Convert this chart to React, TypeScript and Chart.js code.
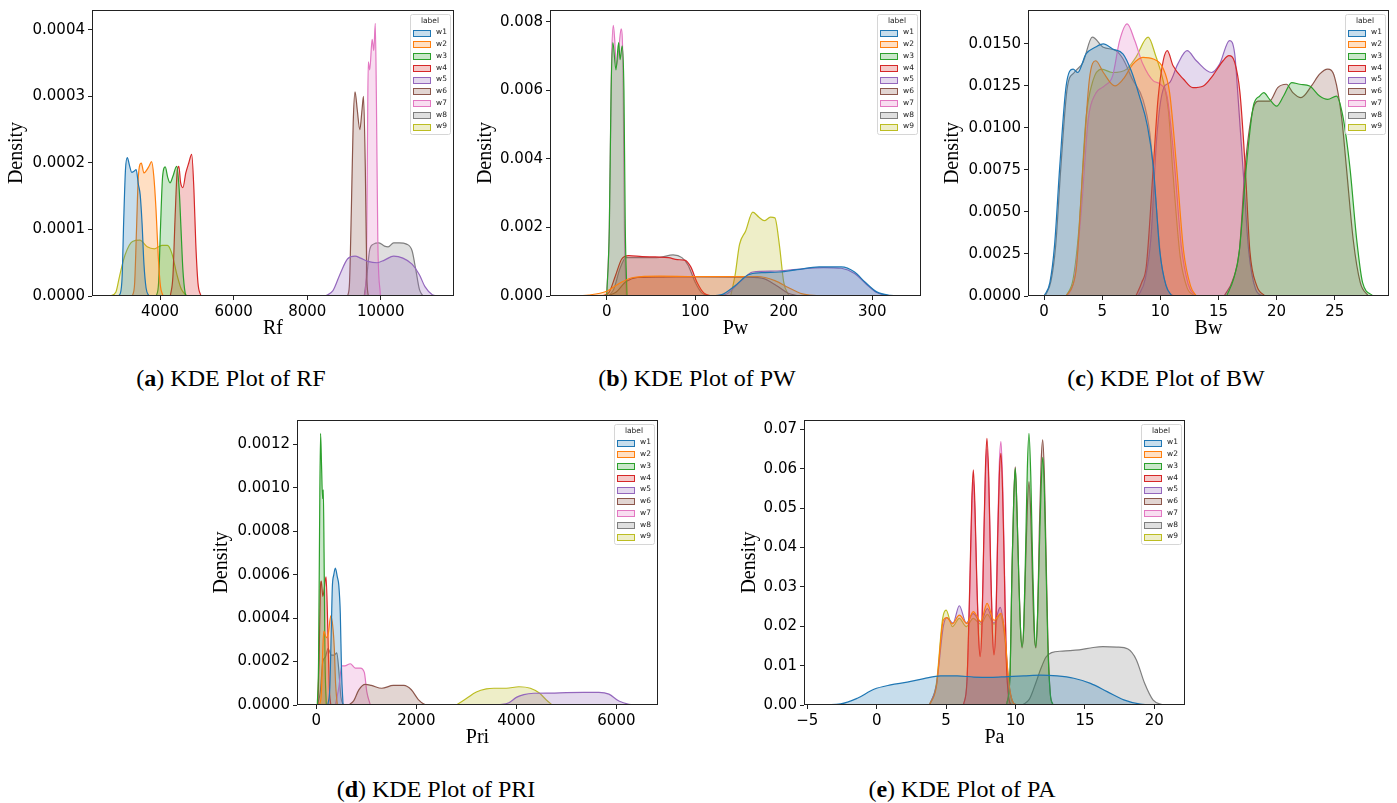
import React, { useEffect, useRef } from 'react';
import { Chart, registerables } from 'chart.js';

Chart.register(...registerables);

type Pt = [number, number];

const LABELS = ['w1', 'w2', 'w3', 'w4', 'w5', 'w6', 'w7', 'w8', 'w9'];
const TAB10 = ['#1f77b4', '#ff7f0e', '#2ca02c', '#d62728', '#9467bd', '#8c564b', '#e377c2', '#7f7f7f', '#bcbd22'];

// ---- Rf densities ----
const RF_W1: Pt[] = [[2850, 0], [2920, 0.000004], [2970, 0.00003], [3010, 0.00011], [3060, 0.00019], [3110, 0.000208], [3170, 0.000196], [3230, 0.000186], [3300, 0.000188], [3350, 0.00019], [3410, 0.000168], [3460, 0.000152], [3510, 0.00011], [3560, 0.00005], [3620, 0.000012], [3700, 0]];
const RF_W2: Pt[] = [[3250, 0], [3310, 0.00002], [3360, 0.0001], [3410, 0.00018], [3490, 0.0002], [3560, 0.000185], [3620, 0.000188], [3700, 0.000195], [3770, 0.000202], [3830, 0.00018], [3890, 0.00013], [3950, 0.00006], [4010, 0.000015], [4080, 0]];
const RF_W3: Pt[] = [[3900, 0], [3960, 0.00002], [4010, 0.0001], [4070, 0.00018], [4140, 0.000194], [4210, 0.000178], [4270, 0.00017], [4350, 0.00018], [4450, 0.000195], [4520, 0.00016], [4570, 0.0001], [4620, 0.00004], [4680, 0.000005], [4720, 0]];
const RF_W4: Pt[] = [[4280, 0], [4350, 0.00003], [4410, 0.00012], [4470, 0.00019], [4510, 0.000195], [4560, 0.00017], [4620, 0.000163], [4700, 0.000185], [4780, 0.0002], [4860, 0.000213], [4920, 0.00016], [4970, 0.00008], [5030, 0.00002], [5110, 0]];
const RF_W5: Pt[] = [[8500, 0], [8700, 0.000008], [8900, 0.000034], [9100, 0.000056], [9300, 0.00006], [9450, 0.000057], [9650, 0.000052], [9900, 0.00005], [10100, 0.000054], [10350, 0.00006], [10600, 0.000057], [10850, 0.000048], [11050, 0.000032], [11200, 0.000014], [11400, 0.000002], [11550, 0]];
const RF_W6: Pt[] = [[9100, 0], [9150, 0.00002], [9200, 0.00013], [9250, 0.00026], [9300, 0.000307], [9360, 0.00028], [9430, 0.00025], [9490, 0.00028], [9530, 0.0003], [9580, 0.00019], [9620, 0.00003], [9660, 0]];
const RF_W7: Pt[] = [[9560, 0], [9610, 0.00004], [9640, 0.00025], [9660, 0.000352], [9700, 0.00034], [9765, 0.000386], [9810, 0.000369], [9850, 0.00041], [9880, 0.0003], [9920, 0.00008], [9990, 0]];
const RF_W8: Pt[] = [[9550, 0], [9620, 0.00003], [9700, 0.00007], [9800, 0.000078], [9950, 0.00008], [10100, 0.000075], [10200, 0.000074], [10350, 0.00008], [10500, 0.00008], [10700, 0.000078], [10850, 0.000068], [10950, 0.00004], [11050, 0.00001], [11150, 0]];
const RF_W9: Pt[] = [[2650, 0], [2800, 0.000006], [2900, 0.00003], [3050, 0.000062], [3250, 0.000082], [3450, 0.000084], [3650, 0.000074], [3850, 0.000071], [4050, 0.000076], [4200, 0.000076], [4320, 0.000064], [4450, 0.000034], [4580, 0.00001], [4730, 0]];

// ---- Pw densities ----
const PW_W1: Pt[] = [[115, 0], [130, 0.00004], [145, 0.0003], [160, 0.00062], [175, 0.00068], [195, 0.0007], [215, 0.00077], [240, 0.00085], [265, 0.00085], [280, 0.0007], [292, 0.0004], [305, 0.00012], [320, 0.00002], [335, 0]];
const PW_W2: Pt[] = [[-45, 0], [-20, 0.00003], [0, 0.00014], [15, 0.00038], [30, 0.00054], [60, 0.00058], [100, 0.00057], [140, 0.00057], [170, 0.00057], [190, 0.00045], [205, 0.00025], [220, 0.00007], [240, 0]];
const PW_W3: Pt[] = [[0, 0], [3, 0.002], [5, 0.006], [7, 0.0074], [10.5, 0.0066], [13.5, 0.0074], [15.2, 0.0069], [17.5, 0.0073], [19.5, 0.006], [21, 0.002], [23, 0]];
const PW_W4: Pt[] = [[-5, 0], [3, 0.00012], [10, 0.0006], [17, 0.00108], [25, 0.00118], [40, 0.00115], [55, 0.00114], [70, 0.00112], [80, 0.00106], [88, 0.00105], [95, 0.00085], [102, 0.0004], [110, 0.00008], [120, 0]];
const PW_W5: Pt[] = [[120, 0], [135, 0.00005], [150, 0.0004], [165, 0.0007], [190, 0.00073], [215, 0.00078], [245, 0.00083], [265, 0.00081], [280, 0.00066], [293, 0.00035], [305, 0.0001], [320, 0]];
const PW_W6: Pt[] = [[0, 0], [10, 0.0001], [22, 0.00042], [35, 0.00054], [60, 0.00055], [100, 0.00056], [150, 0.00055], [175, 0.00052], [192, 0.0003], [205, 0.00008], [218, 0]];
const PW_W7: Pt[] = [[0, 0], [3, 0.002], [5.5, 0.0068], [7.5, 0.0079], [9, 0.0075], [11, 0.0067], [14, 0.0073], [16.3, 0.0078], [18.5, 0.0065], [20, 0.002], [22, 0]];
const PW_W8: Pt[] = [[2, 0], [8, 0.0002], [15, 0.0008], [22, 0.00112], [40, 0.00112], [60, 0.00113], [75, 0.0012], [85, 0.00112], [92, 0.0009], [100, 0.0004], [107, 0.0001], [115, 0]];
const PW_W9: Pt[] = [[140, 0], [145, 0.0006], [150, 0.0015], [157, 0.0019], [165, 0.00245], [172, 0.0023], [178, 0.0022], [185, 0.0023], [190, 0.00228], [195, 0.0015], [200, 0.0004], [206, 0]];

// ---- Bw densities ----
const BW_W1: Pt[] = [[0, 0], [0.5, 0.0008], [0.9, 0.003], [1.35, 0.0077], [1.9, 0.0125], [2.5, 0.0135], [2.9, 0.0133], [3.6, 0.0144], [4.4, 0.0148], [5.1, 0.015], [5.9, 0.0147], [6.8, 0.0144], [7.5, 0.0134], [8.2, 0.0119], [8.9, 0.0101], [9.4, 0.0077], [9.95, 0.0027], [10.5, 0.0006], [11, 0]];
const BW_W2: Pt[] = [[1.9, 0], [2.5, 0.0007], [2.8, 0.0018], [3.35, 0.0077], [3.9, 0.0129], [4.45, 0.014], [5.1, 0.0133], [6.1, 0.0125], [6.8, 0.0129], [7.65, 0.0138], [8.5, 0.0142], [9.4, 0.0141], [10.2, 0.0136], [10.8, 0.0121], [11.4, 0.0077], [12, 0.0027], [12.6, 0.0006], [13.1, 0]];
const BW_W3: Pt[] = [[15.7, 0], [16.3, 0.001], [16.8, 0.0027], [17.4, 0.0077], [18, 0.0113], [18.55, 0.0119], [18.9, 0.0121], [19.4, 0.0117], [20, 0.0113], [20.6, 0.0119], [21.3, 0.0127], [22, 0.0126], [22.85, 0.0125], [23.7, 0.0119], [24.4, 0.0117], [25.15, 0.0119], [25.7, 0.0107], [26.3, 0.0077], [26.9, 0.0033], [27.4, 0.0008], [28.3, 0]];
const BW_W4: Pt[] = [[7.9, 0], [8.4, 0.0008], [8.8, 0.0018], [9.4, 0.0077], [9.8, 0.0117], [10.25, 0.014], [10.6, 0.0146], [11.1, 0.0137], [12, 0.0129], [12.8, 0.0124], [13.7, 0.0125], [14.5, 0.0131], [15.4, 0.014], [15.9, 0.0143], [16.4, 0.0139], [16.85, 0.0121], [17.3, 0.0077], [17.7, 0.0027], [18.3, 0.0006], [19, 0]];
const BW_W5: Pt[] = [[8.1, 0], [8.7, 0.001], [9.2, 0.0035], [9.7, 0.0095], [10.3, 0.0124], [10.8, 0.0127], [11.5, 0.0138], [12.3, 0.0146], [13.1, 0.014], [14.4, 0.0133], [15.1, 0.0138], [15.95, 0.0152], [16.4, 0.0144], [16.7, 0.0117], [17.1, 0.0077], [17.6, 0.0027], [18.2, 0.0004], [18.8, 0]];
const BW_W6: Pt[] = [[15.5, 0], [16.2, 0.0009], [16.8, 0.0027], [17.3, 0.0077], [17.9, 0.0109], [18.4, 0.0116], [19.4, 0.0116], [20.1, 0.0124], [20.85, 0.0126], [21.4, 0.0121], [22.1, 0.0118], [23, 0.0125], [23.7, 0.0132], [24.4, 0.0135], [25, 0.013], [25.6, 0.0106], [26, 0.0077], [26.6, 0.0033], [27.2, 0.0008], [27.9, 0]];
const BW_W7: Pt[] = [[2, 0], [2.6, 0.001], [3.2, 0.005], [3.8, 0.0105], [4.4, 0.012], [5.2, 0.0125], [5.9, 0.0131], [6.5, 0.0152], [7.15, 0.0162], [7.8, 0.0152], [8.5, 0.0138], [9.4, 0.0128], [10, 0.0126], [10.6, 0.0118], [11.2, 0.008], [11.8, 0.003], [12.4, 0.0007], [13, 0]];
const BW_W8: Pt[] = [[0.1, 0], [0.6, 0.0009], [1.0, 0.003], [1.45, 0.0077], [2.0, 0.0124], [2.6, 0.0133], [3.35, 0.0139], [4.15, 0.0154], [5.1, 0.0148], [6.2, 0.0146], [6.8, 0.0141], [7.6, 0.0129], [8.5, 0.0117], [9.1, 0.0097], [9.6, 0.0058], [10.1, 0.0019], [10.7, 0.0003], [11.2, 0]];
const BW_W9: Pt[] = [[1.9, 0], [2.5, 0.001], [3.0, 0.004], [3.6, 0.0105], [4.2, 0.0128], [4.95, 0.0135], [5.9, 0.0133], [7.1, 0.0135], [7.9, 0.0142], [8.95, 0.0154], [9.6, 0.0143], [10.25, 0.0128], [10.7, 0.011], [11.1, 0.0072], [11.7, 0.0024], [12.3, 0.0005], [13, 0]];

// ---- Pri densities ----
const PRI_W1: Pt[] = [[230, 0], [270, 0.00008], [300, 0.00035], [320, 0.00054], [350, 0.0006], [380, 0.00063], [420, 0.00059], [450, 0.00055], [480, 0.00042], [505, 0.00015], [535, 0]];
const PRI_W2: Pt[] = [[60, 0], [100, 0.00005], [130, 0.00026], [150, 0.00034], [200, 0.00031], [240, 0.00033], [290, 0.00041], [330, 0.00036], [360, 0.00026], [385, 0.0001], [420, 0]];
const PRI_W3: Pt[] = [[20, 0], [45, 0.0002], [65, 0.0008], [85, 0.00125], [105, 0.0011], [125, 0.00095], [140, 0.00099], [155, 0.0007], [175, 0.0002], [200, 0]];
const PRI_W4: Pt[] = [[30, 0], [55, 0.0002], [80, 0.00052], [100, 0.00057], [130, 0.0005], [150, 0.00052], [195, 0.00059], [230, 0.00035], [260, 0.00008], [290, 0]];
const PRI_W5: Pt[] = [[3650, 0], [3850, 0.00001], [4000, 0.000035], [4150, 0.000048], [4350, 0.000054], [4700, 0.000055], [5000, 0.000057], [5350, 0.000058], [5650, 0.000058], [5850, 0.00005], [6050, 0.000018], [6250, 0.000003], [6400, 0]];
const PRI_W6: Pt[] = [[650, 0], [750, 0.00002], [850, 0.00007], [980, 0.000095], [1100, 0.00009], [1310, 0.000077], [1540, 0.00009], [1750, 0.00009], [1900, 0.00007], [2040, 0.000025], [2150, 0.000005], [2250, 0]];
const PRI_W7: Pt[] = [[380, 0], [450, 0.00008], [510, 0.00018], [570, 0.00018], [680, 0.00019], [780, 0.00017], [880, 0.00017], [960, 0.00015], [1010, 0.00006], [1080, 0]];
const PRI_W8: Pt[] = [[20, 0], [80, 0.00006], [130, 0.0002], [180, 0.00022], [235, 0.00026], [300, 0.00023], [360, 0.00023], [410, 0.00024], [450, 0.00016], [490, 0.00004], [540, 0]];
const PRI_W9: Pt[] = [[2800, 0], [3000, 0.00003], [3200, 0.00006], [3400, 0.000074], [3550, 0.000077], [3800, 0.000077], [4050, 0.000084], [4280, 0.000077], [4460, 0.000055], [4600, 0.000023], [4720, 0]];

// ---- Pa densities ----
const PA_W1: Pt[] = [[-4.8, 0], [-2.6, 0.0003], [-1.4, 0.0017], [-0.2, 0.004], [1, 0.0051], [2.2, 0.0058], [3.4, 0.0067], [4.6, 0.0074], [5.8, 0.0074], [7, 0.0071], [8.2, 0.007], [9.4, 0.0072], [10.6, 0.0074], [11.8, 0.0076], [13, 0.0074], [14.2, 0.0068], [15.4, 0.0055], [16.6, 0.0034], [17.8, 0.0013], [19, 0.0002], [20.2, 0]];
const PA_W2: Pt[] = [[3.8, 0], [4.3, 0.0047], [4.8, 0.0216], [5.05, 0.0222], [5.45, 0.0206], [5.95, 0.0228], [6.5, 0.0207], [6.95, 0.0237], [7.5, 0.0212], [7.95, 0.0258], [8.45, 0.0215], [8.95, 0.0233], [9.25, 0.0174], [9.5, 0.0063], [9.85, 0.0005], [10.2, 0]];
const PA_W3: Pt[] = [[9.35, 0], [9.6, 0.0075], [9.75, 0.035], [9.87, 0.052], [9.98, 0.0601], [10.1, 0.05], [10.23, 0.033], [10.35, 0.02], [10.47, 0.0148], [10.6, 0.021], [10.73, 0.04], [10.85, 0.06], [10.97, 0.069], [11.1, 0.058], [11.22, 0.038], [11.35, 0.02], [11.45, 0.0148], [11.58, 0.022], [11.72, 0.04], [11.85, 0.056], [11.96, 0.0629], [12.08, 0.054], [12.2, 0.035], [12.33, 0.015], [12.5, 0.003], [12.7, 0]];
const PA_W4: Pt[] = [[6.25, 0], [6.5, 0.006], [6.7, 0.03], [6.85, 0.052], [6.96, 0.0597], [7.08, 0.05], [7.2, 0.033], [7.33, 0.018], [7.45, 0.0123], [7.58, 0.02], [7.7, 0.04], [7.83, 0.06], [7.94, 0.0677], [8.07, 0.058], [8.2, 0.037], [8.33, 0.019], [8.45, 0.0127], [8.58, 0.02], [8.7, 0.04], [8.83, 0.058], [8.95, 0.0639], [9.07, 0.054], [9.2, 0.033], [9.33, 0.012], [9.5, 0.002], [9.7, 0]];
const PA_W5: Pt[] = [[3.8, 0], [4.3, 0.005], [4.8, 0.02], [5.05, 0.0222], [5.5, 0.0208], [5.95, 0.0252], [6.45, 0.0208], [6.95, 0.0232], [7.5, 0.021], [7.97, 0.0245], [8.45, 0.0208], [8.9, 0.0248], [9.25, 0.017], [9.5, 0.006], [9.85, 0.0005], [10.2, 0]];
const PA_W6: Pt[] = [[9.35, 0], [9.6, 0.0075], [9.75, 0.035], [9.87, 0.052], [9.98, 0.0605], [10.1, 0.05], [10.23, 0.033], [10.35, 0.02], [10.47, 0.0145], [10.6, 0.02], [10.73, 0.036], [10.85, 0.05], [10.97, 0.0567], [11.1, 0.048], [11.22, 0.032], [11.35, 0.018], [11.47, 0.0145], [11.6, 0.024], [11.72, 0.045], [11.85, 0.062], [11.96, 0.0673], [12.08, 0.058], [12.2, 0.038], [12.33, 0.017], [12.5, 0.003], [12.7, 0]];
const PA_W7: Pt[] = [[6.25, 0], [6.5, 0.006], [6.7, 0.028], [6.85, 0.05], [6.96, 0.057], [7.08, 0.048], [7.2, 0.032], [7.33, 0.018], [7.45, 0.0125], [7.58, 0.02], [7.7, 0.039], [7.83, 0.058], [7.94, 0.065], [8.07, 0.056], [8.2, 0.036], [8.33, 0.019], [8.45, 0.013], [8.58, 0.021], [8.7, 0.042], [8.83, 0.061], [8.95, 0.0669], [9.07, 0.057], [9.2, 0.035], [9.33, 0.013], [9.5, 0.002], [9.7, 0]];
const PA_W8: Pt[] = [[10.5, 0], [11, 0.0015], [11.4, 0.005], [11.8, 0.009], [12.2, 0.0122], [12.6, 0.0133], [13.4, 0.0137], [14.6, 0.014], [15.6, 0.0146], [16.3, 0.0148], [17.3, 0.0147], [18.1, 0.0142], [18.7, 0.0115], [19.3, 0.0055], [19.9, 0.0013], [20.6, 0]];
const PA_W9: Pt[] = [[3.8, 0], [4.3, 0.0055], [4.75, 0.022], [5.0, 0.0241], [5.45, 0.0199], [5.95, 0.022], [6.45, 0.0199], [6.95, 0.022], [7.5, 0.0205], [7.97, 0.023], [8.45, 0.0205], [8.9, 0.023], [9.25, 0.016], [9.5, 0.0055], [9.85, 0.0005], [10.2, 0]];

// ---- tick values ----
const RF_X_TICKS = [4000, 6000, 8000, 10000];
const RF_Y_TICKS = [0, 0.0001, 0.0002, 0.0003, 0.0004];
const PW_X_TICKS = [0, 100, 200, 300];
const PW_Y_TICKS = [0, 0.002, 0.004, 0.006, 0.008];
const BW_X_TICKS = [0, 5, 10, 15, 20, 25];
const BW_Y_TICKS = [0, 0.0025, 0.005, 0.0075, 0.01, 0.0125, 0.015];
const PRI_X_TICKS = [0, 2000, 4000, 6000];
const PRI_Y_TICKS = [0, 0.0002, 0.0004, 0.0006, 0.0008, 0.001, 0.0012];
const PA_X_TICKS = [-5, 0, 5, 10, 15, 20];
const PA_Y_TICKS = [0, 0.01, 0.02, 0.03, 0.04, 0.05, 0.06, 0.07];

interface Panel {
  key: string;
  box: [number, number, number, number]; // left, top, right, bottom of the plot area on the page
  xRange: [number, number];
  yMax: number;
  xTicks: number[];
  yTicks: number[];
  yDecimals: number;
  xTitle: string;
  yTitlePad: number;
  series: Pt[][];
}

const PANELS: Panel[] = [
  { key: 'rf', box: [92, 10, 454, 296], xRange: [2150, 11990], yMax: 0.00043, xTicks: RF_X_TICKS, yTicks: RF_Y_TICKS, yDecimals: 4, xTitle: 'Rf', yTitlePad: 3, series: [RF_W1, RF_W2, RF_W3, RF_W4, RF_W5, RF_W6, RF_W7, RF_W8, RF_W9] },
  { key: 'pw', box: [550, 10, 921, 296], xRange: [-64, 355], yMax: 0.00835, xTicks: PW_X_TICKS, yTicks: PW_Y_TICKS, yDecimals: 3, xTitle: 'Pw', yTitlePad: 14, series: [PW_W1, PW_W2, PW_W3, PW_W4, PW_W5, PW_W6, PW_W7, PW_W8, PW_W9] },
  { key: 'bw', box: [1028, 10, 1389, 296], xRange: [-1.38, 29.67], yMax: 0.01702, xTicks: BW_X_TICKS, yTicks: BW_Y_TICKS, yDecimals: 4, xTitle: 'Bw', yTitlePad: 3, series: [BW_W1, BW_W2, BW_W3, BW_W4, BW_W5, BW_W6, BW_W7, BW_W8, BW_W9] },
  { key: 'pri', box: [297, 420, 658, 705], xRange: [-386, 6832], yMax: 0.001312, xTicks: PRI_X_TICKS, yTicks: PRI_Y_TICKS, yDecimals: 4, xTitle: 'Pri', yTitlePad: 3, series: [PRI_W1, PRI_W2, PRI_W3, PRI_W4, PRI_W5, PRI_W6, PRI_W7, PRI_W8, PRI_W9] },
  { key: 'pa', box: [804, 420, 1185, 705], xRange: [-5.24, 22.21], yMax: 0.07237, xTicks: PA_X_TICKS, yTicks: PA_Y_TICKS, yDecimals: 2, xTitle: 'Pa', yTitlePad: 24, series: [PA_W1, PA_W2, PA_W3, PA_W4, PA_W5, PA_W6, PA_W7, PA_W8, PA_W9] },
];

const CAPTIONS = [
  { letter: 'a', text: 'KDE Plot of RF', cx: 231, top: 364 },
  { letter: 'b', text: 'KDE Plot of PW', cx: 697, top: 364 },
  { letter: 'c', text: 'KDE Plot of BW', cx: 1166, top: 364 },
  { letter: 'd', text: 'KDE Plot of PRI', cx: 436, top: 775 },
  { letter: 'e', text: 'KDE Plot of PA', cx: 962, top: 775 },
];

const Y_AXIS_W = 90;
const X_AXIS_H = 50;
const PAD_TOP = 10;
const PAD_RIGHT = 8;

function rgba(hex: string, a: number): string {
  const n = parseInt(hex.slice(1), 16);
  return `rgba(${(n >> 16) & 255}, ${(n >> 8) & 255}, ${n & 255}, ${a})`;
}

// Frame around the plot area plus the boxed "label" legend in the upper right.
const framePlugin = {
  id: 'kdeFrame',
  afterDatasetsDraw(chart: any) {
    const { ctx, chartArea: a } = chart;
    ctx.save();
    ctx.strokeStyle = '#222';
    ctx.lineWidth = 1;
    ctx.strokeRect(Math.round(a.left) + 0.5, Math.round(a.top) + 0.5, Math.round(a.right - a.left) - 1, Math.round(a.bottom - a.top) - 1);

    const w = 40;
    const h = 120;
    const lx = Math.round(a.right) - 4 - w;
    const ly = Math.round(a.top) + 4;
    ctx.fillStyle = 'rgba(255,255,255,0.85)';
    ctx.strokeStyle = '#d6d6d6';
    ctx.beginPath();
    ctx.roundRect(lx + 0.5, ly + 0.5, w, h, 2);
    ctx.fill();
    ctx.stroke();

    ctx.fillStyle = '#222';
    ctx.font = '7.5px "DejaVu Sans"';
    ctx.textBaseline = 'middle';
    ctx.textAlign = 'center';
    ctx.fillText('label', lx + w / 2, ly + 7);
    ctx.textAlign = 'left';
    LABELS.forEach((name, i) => {
      const cy = ly + 18.5 + i * 11.75;
      ctx.fillStyle = rgba(TAB10[i], 0.25);
      ctx.fillRect(lx + 3.5, Math.round(cy - 3) + 0.5, 17, 6);
      ctx.strokeStyle = TAB10[i];
      ctx.strokeRect(lx + 3.5, Math.round(cy - 3) + 0.5, 17, 6);
      ctx.fillStyle = '#222';
      ctx.fillText(name, lx + 26, cy);
    });
    ctx.restore();
  },
};

function KdePanel({ panel }: { panel: Panel }) {
  const ref = useRef<HTMLCanvasElement>(null);
  const [l, t, r, b] = panel.box;
  const width = Y_AXIS_W + (r - l) + PAD_RIGHT;
  const height = PAD_TOP + (b - t) + X_AXIS_H;

  useEffect(() => {
    const canvas = ref.current;
    if (!canvas) return;
    const chart = new Chart(canvas, {
      type: 'line',
      data: {
        datasets: panel.series.map((pts, i) => ({
          label: LABELS[i],
          data: pts.map(([x, y]) => ({ x, y })),
          borderColor: TAB10[i],
          backgroundColor: rgba(TAB10[i], 0.25),
          borderWidth: 1.2,
          fill: 'origin',
          pointRadius: 0,
          cubicInterpolationMode: 'monotone',
        })),
      },
      options: {
        animation: false,
        responsive: false,
        devicePixelRatio: 1,
        layout: { padding: { top: PAD_TOP, right: PAD_RIGHT, left: 0, bottom: 0 } },
        plugins: { legend: { display: false }, tooltip: { enabled: false } },
        scales: {
          x: {
            type: 'linear',
            min: panel.xRange[0],
            max: panel.xRange[1],
            afterBuildTicks: (s: any) => { s.ticks = panel.xTicks.map((v) => ({ value: v })); },
            afterFit: (s: any) => { s.height = X_AXIS_H; s.paddingLeft = 0; s.paddingRight = 0; },
            grid: { display: true, drawOnChartArea: false, drawTicks: true, tickLength: 4, color: '#222' },
            border: { display: false },
            ticks: {
              autoSkip: false,
              maxRotation: 0,
              padding: 3,
              color: '#000',
              font: { family: 'DejaVu Sans', size: 15 },
              callback: (v: any) => (Number(v) < 0 ? '\u2212' + Math.abs(Number(v)) : String(v)),
            },
            title: {
              display: true,
              text: panel.xTitle,
              color: '#000',
              font: { family: 'Liberation Serif', size: 20 },
              padding: { top: 0, bottom: 5.5 },
            },
          },
          y: {
            type: 'linear',
            min: 0,
            max: panel.yMax,
            afterBuildTicks: (s: any) => { s.ticks = panel.yTicks.map((v) => ({ value: v })); },
            afterFit: (s: any) => { s.width = Y_AXIS_W; s.paddingTop = 0; s.paddingBottom = 0; },
            grid: { display: true, drawOnChartArea: false, drawTicks: true, tickLength: 4, color: '#222' },
            border: { display: false },
            ticks: {
              padding: 3,
              color: '#000',
              font: { family: 'DejaVu Sans', size: 15 },
              callback: (v: any) => Number(v).toFixed(panel.yDecimals),
            },
            title: {
              display: true,
              text: 'Density',
              color: '#000',
              font: { family: 'Liberation Serif', size: 20 },
              padding: { top: panel.yTitlePad, bottom: 0 },
            },
          },
        },
      },
      plugins: [framePlugin],
    } as any);
    return () => chart.destroy();
  }, [panel]);

  return (
    <canvas
      ref={ref}
      width={width}
      height={height}
      style={{ position: 'absolute', left: l - Y_AXIS_W, top: t - PAD_TOP, width, height }}
    />
  );
}

export default function App() {
  return (
    <div
      style={{
        position: 'fixed',
        left: 0,
        top: 0,
        width: 1397,
        height: 803,
        background: '#fff',
        overflow: 'hidden',
      }}
    >
      {PANELS.map((p) => (
        <KdePanel key={p.key} panel={p} />
      ))}
      {CAPTIONS.map((c) => (
        <div
          key={c.letter}
          style={{
            position: 'absolute',
            left: c.cx - 200,
            top: c.top,
            width: 400,
            textAlign: 'center',
            fontFamily: '"Liberation Serif", serif',
            fontSize: 24,
            lineHeight: '28px',
            color: '#000',
            whiteSpace: 'nowrap',
          }}
        >
          (<b>{c.letter}</b>) {c.text}
        </div>
      ))}
    </div>
  );
}
